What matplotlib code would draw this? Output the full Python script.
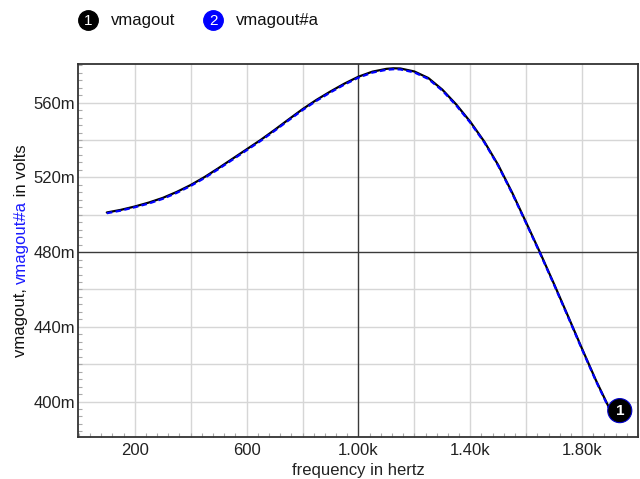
import matplotlib
matplotlib.use("Agg")
import matplotlib.pyplot as plt
from matplotlib.ticker import MultipleLocator, FixedLocator

plt.rcParams['font.family'] = ['Liberation Sans', 'DejaVu Sans']

freq = [100, 150, 200, 250, 300, 350, 400, 450, 500, 550, 600, 650, 700, 750,
        800, 850, 900, 950, 1000, 1050, 1100, 1125, 1150, 1200, 1250, 1300,
        1350, 1400, 1450, 1500, 1550, 1600, 1650, 1700, 1750, 1800, 1850,
        1900, 1905]
vmagout = [501.2, 502.6, 504.4, 506.5, 509.0, 512.2, 515.9, 520.2, 525.0,
           530.0, 535.0, 540.0, 545.4, 551.0, 556.5, 561.5, 566.0, 570.2,
           573.9, 576.6, 578.1, 578.4, 578.3, 576.7, 573.2, 567.0, 559.0,
           549.8, 539.2, 526.6, 511.8, 495.8, 479.6, 462.8, 445.6, 428.2,
           411.2, 395.6, 394.0]
vmagout_a = [500.8, 502.2, 504.0, 506.0, 508.5, 511.7, 515.4, 519.7, 524.5,
             529.5, 534.5, 539.5, 544.9, 550.5, 556.0, 561.0, 565.5, 569.7,
             573.4, 576.1, 577.6, 577.9, 577.8, 576.2, 572.7, 566.5, 558.5,
             549.3, 538.8, 526.2, 511.4, 495.4, 479.2, 462.4, 445.2, 427.8,
             410.8, 395.2, 393.6]

x_major = [200, 600, 1000, 1400, 1800]
x_labels = ["200", "600", "1.00k", "1.40k", "1.80k"]
y_major = [400, 440, 480, 520, 560]
y_labels = ["400m", "440m", "480m", "520m", "560m"]
x_grid = [200, 400, 600, 800, 1200, 1400, 1600, 1800]
y_grid = [400, 420, 440, 460, 500, 520, 540, 560]

W, H = 640, 479
fig = plt.figure(figsize=(W / 100, H / 100), dpi=100)
ax = fig.add_axes([78 / W, 1 - 437 / H, (638 - 78) / W, (437 - 64) / H])

ax.set_xlim(-3, 2000)
ax.set_ylim(381, 580.7)

for g in x_grid:
    ax.axvline(g, color='#d6d6d6', lw=1.0, zorder=0)
for g in y_grid:
    ax.axhline(g, color='#d6d6d6', lw=1.0, zorder=0)
ax.axvline(1000, color='#3a3a3a', lw=1.0, zorder=1)
ax.axhline(480, color='#3a3a3a', lw=1.0, zorder=1)

ax.plot(freq, vmagout, color='black', lw=1.6, zorder=3, solid_capstyle='round')
ax.plot(freq, vmagout_a, color='#0000ff', lw=1.6, ls=(0, (2.5, 1.5)), zorder=4)

# end marker
ax.annotate('1', xy=(freq[-1], vmagout[-1]), xytext=(6, 1.5), textcoords='offset points',
            ha='center', va='center', color='white', fontsize=11, fontweight='bold',
            zorder=6,
            bbox=dict(boxstyle='circle,pad=0.33', fc='black', ec='#0000cc', lw=0.8))

ax.xaxis.set_major_locator(FixedLocator(x_major))
ax.set_xticklabels(x_labels)
ax.yaxis.set_major_locator(FixedLocator(y_major))
ax.set_yticklabels(y_labels)
ax.xaxis.set_minor_locator(MultipleLocator(40))
ax.yaxis.set_minor_locator(MultipleLocator(4))
ax.tick_params(which='major', length=0, labelsize=12, colors='#222222', pad=4)
ax.tick_params(axis='y', which='major', pad=2)
ax.tick_params(which='minor', direction='in', length=3, width=0.8, color='#aaaaaa')
ax.tick_params(top=False, right=False, which='both')

for s in ax.spines.values():
    s.set_color('#333333')
    s.set_linewidth(1.3)

ax.set_xlabel('frequency in hertz', fontsize=12, color='#222222', labelpad=4)

# multicolour y label
fig.canvas.draw()
r = fig.canvas.get_renderer()
parts = [("vmagout, ", '#111111'), ("vmagout#a", '#1a1aff'), (" in volts", '#111111')]
texts = []
for s, c in parts:
    t = fig.text(0, 0, s, rotation=90, fontsize=12, color=c, ha='center', va='bottom')
    texts.append(t)
heights = [t.get_window_extent(r).height for t in texts]
total = sum(heights)
cy = H - (64 + 437) / 2
y0 = cy - total / 2
for t, h in zip(texts, heights):
    t.set_position((21 / W, y0 / H))
    y0 += h

# legend overlay
lg = fig.add_axes([0, 0, 1, 1], zorder=10)
lg.set_xlim(0, W)
lg.set_ylim(H, 0)
lg.axis('off')
lg.patch.set_alpha(0)
lg.plot([88], [20], 'o', ms=14, color='black')
lg.text(88, 20.5, '1', color='white', fontsize=11, ha='center', va='center')
lg.text(111, 20, 'vmagout', fontsize=12, ha='left', va='center', color='#111111')
lg.plot([213], [20], 'o', ms=14, color='#0000ff')
lg.text(213, 20.5, '2', color='white', fontsize=11, ha='center', va='center')
lg.text(236, 20, 'vmagout#a', fontsize=12, ha='left', va='center', color='#111111')

fig.savefig('out.png', dpi=100)
